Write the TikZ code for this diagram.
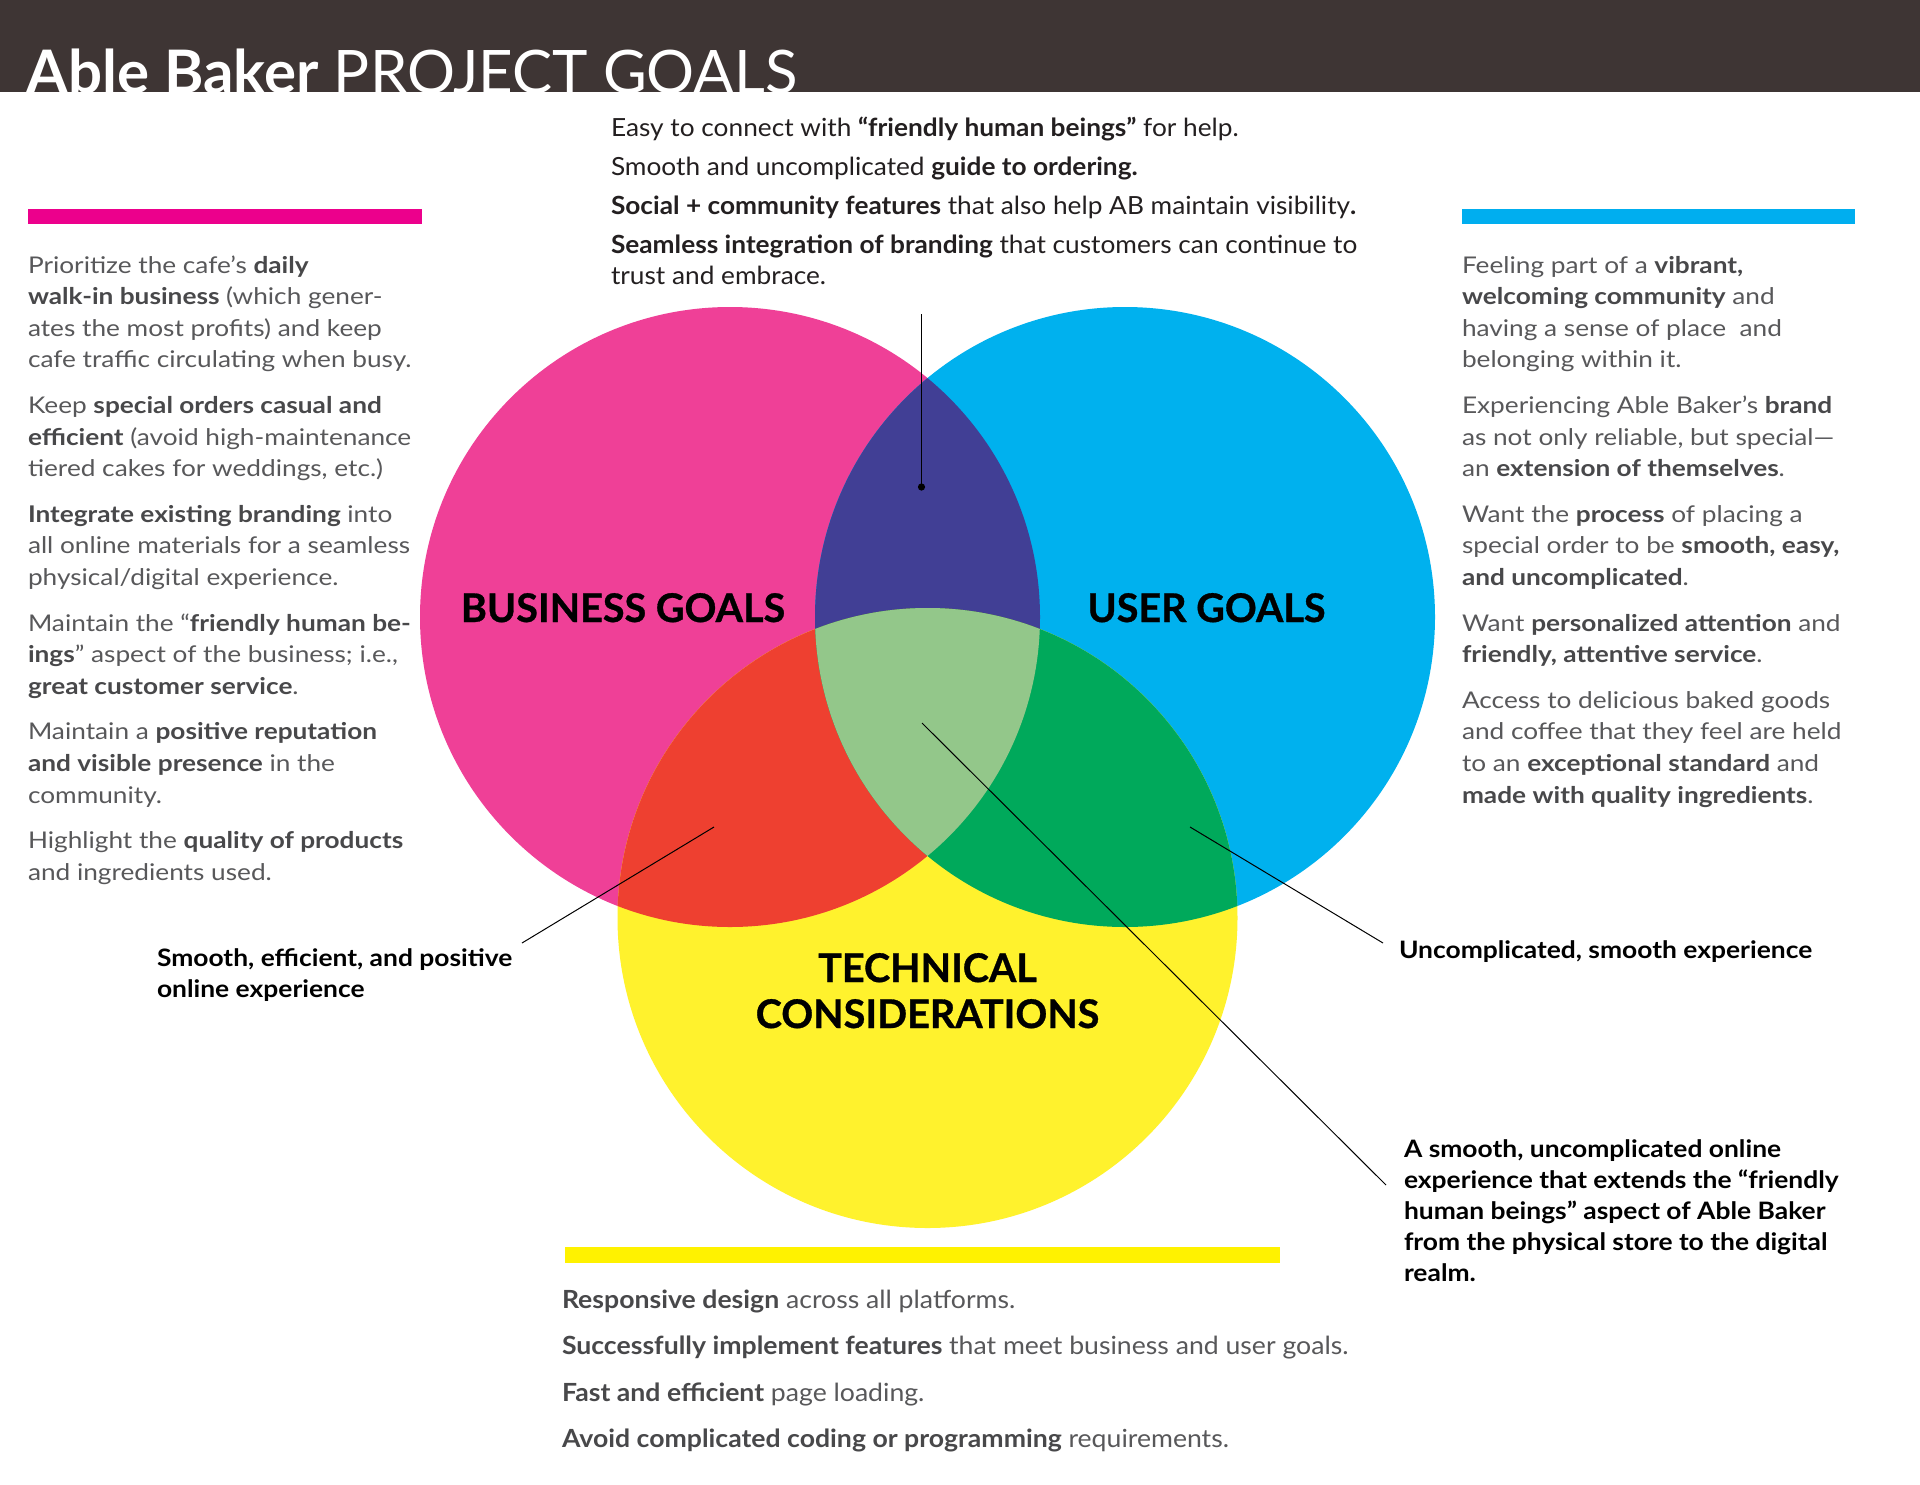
\documentclass[tikz,border=0pt]{standalone}
\usepackage{fontspec}
\setmainfont{Lato}
\newfontfamily\sidefont{Lato}[FakeStretch=1.14]
\newfontfamily\topfont{Lato}[FakeStretch=1.05]
\newfontfamily\botfont{Lato}[FakeStretch=1.065]
\newfontfamily\annfont{Lato}[FakeStretch=1.1]
\newfontfamily\labfont{Lato}[FakeBold=0.8]
\definecolor{hdr}{HTML}{3E3534}
\definecolor{cpink}{HTML}{EF4097}
\definecolor{cblue}{HTML}{00B1EE}
\definecolor{cyellow}{HTML}{FFF22D}
\definecolor{cpurple}{HTML}{413F95}
\definecolor{cred}{HTML}{EE4030}
\definecolor{cgreen}{HTML}{00A95B}
\definecolor{clight}{HTML}{93C78A}
\definecolor{barpink}{HTML}{EC008C}
\definecolor{barblue}{HTML}{00AEEF}
\definecolor{baryellow}{HTML}{FFF200}
\definecolor{bodygray}{HTML}{58585A}
\definecolor{boldgray}{HTML}{48484A}
\definecolor{topblack}{HTML}{231F20}
\newcommand\B[1]{\textbf{\color{boldgray}#1}}
\newcommand\T[1]{\textbf{#1}}
\newcommand\tline[5]{\node[#4] (#1) at (#2,#3) {#5};}
\begin{document}
\begin{tikzpicture}[x=1pt,y=-1pt,
  base/.style={inner sep=0pt, outer sep=0pt, anchor=base west},
  side/.style={base, text=bodygray, font=\sidefont\fontsize{23}{27}\selectfont},
  topt/.style={base, text=topblack, font=\topfont\fontsize{25}{29}\selectfont},
  bott/.style={base, text=bodygray, font=\botfont\fontsize{25}{29}\selectfont},
  ann/.style={base, text=black, font=\annfont\fontsize{24}{28}\selectfont\bfseries},
  clab/.style={inner sep=0pt, outer sep=0pt, anchor=base, text=black, font=\labfont\fontsize{39.5}{46}\selectfont\bfseries},
  conn/.style={draw=black, line width=1pt}]
\useasboundingbox (0,0) rectangle (1920,1484);
\fill[white] (0,0) rectangle (1920,1484);
% header
\fill[hdr] (0,0) rectangle (1920,92);
\node[base, text=white, font=\fontsize{60}{70}\selectfont] (ttl) at (27,93) {\textbf{Able Baker} PROJECT GOALS};
% colour bars
\fill[barpink] (28,209) rectangle (422,224);
\fill[barblue] (1462,209) rectangle (1855,224);
\fill[baryellow] (565,1247) rectangle (1280,1263);
% circles
\coordinate (P) at (730,617);
\coordinate (Bc) at (1125,617);
\coordinate (Y) at (927.5,918);
\fill[cpink] (P) circle[radius=310pt];
\fill[cblue] (Bc) circle[radius=310pt];
\fill[cyellow] (Y) circle[radius=310pt];
\begin{scope}
  \clip (P) circle[radius=310pt];
  \fill[cpurple] (Bc) circle[radius=310pt];
  \fill[cred] (Y) circle[radius=310pt];
\end{scope}
\begin{scope}
  \clip (Bc) circle[radius=310pt];
  \fill[cgreen] (Y) circle[radius=310pt];
\end{scope}
\begin{scope}
  \clip (P) circle[radius=310pt];
  \clip (Bc) circle[radius=310pt];
  \fill[clight] (Y) circle[radius=310pt];
\end{scope}
% circle labels
\node[clab] (bg) at (623,622) {BUSINESS GOALS};
\node[clab] (ug) at (1206.5,622) {USER GOALS};
\node[clab] (tc1) at (927.5,982) {TECHNICAL};
\node[clab] (tc2) at (927.5,1028) {CONSIDERATIONS};
% connectors
\coordinate (t1) at (921.5,314);
\coordinate (t2) at (921.5,487);
\draw[conn, line width=1.4pt] (t1) -- (t2);
\fill[black] (t2) circle[radius=3.6pt];
\coordinate (la) at (714,827);
\coordinate (lb) at (522,943);
\draw[conn] (la) -- (lb);
\coordinate (ra) at (1190,827);
\coordinate (rb) at (1383,943);
\draw[conn] (ra) -- (rb);
\coordinate (ma) at (922,723);
\coordinate (mb) at (1386,1185);
\draw[conn] (ma) -- (mb);
% top text
\tline{tp1}{611}{136}{topt}{Easy to connect with \T{“friendly human beings”} for help.}
\tline{tp2}{611}{175}{topt}{Smooth and uncomplicated \T{guide to ordering.}}
\tline{tp3}{611}{214}{topt}{\T{Social + community features} that also help AB maintain visibility\T{.}}
\tline{tp4}{611}{253}{topt}{\T{Seamless integration of branding} that customers can continue to}
\tline{tp5}{611}{284}{topt}{trust and embrace.}
% left column
\tline{lc1}{28}{273}{side}{Prioritize the cafe’s \B{daily}}
\tline{lc2}{28}{304.6}{side}{\B{walk-in business} (which gener-}
\tline{lc3}{28}{336.2}{side}{ates the most profits) and keep}
\tline{lc4}{28}{367.8}{side}{cafe traffic circulating when busy.}
\tline{lc5}{28}{413.4}{side}{Keep \B{special orders casual and}}
\tline{lc6}{28}{445}{side}{\B{efficient} (avoid high-maintenance}
\tline{lc7}{28}{476.6}{side}{tiered cakes for weddings, etc.)}
\tline{lc8}{28}{522.2}{side}{\B{Integrate existing branding} into}
\tline{lc9}{28}{553.8}{side}{all online materials for a seamless}
\tline{lc10}{28}{585.4}{side}{physical/digital experience.}
\tline{lc11}{28}{631}{side}{Maintain the “\B{friendly human be-}}
\tline{lc12}{28}{662.6}{side}{\B{ings}” aspect of the business; i.e.,}
\tline{lc13}{28}{694.2}{side}{\B{great customer service}.}
\tline{lc14}{28}{739.8}{side}{Maintain a \B{positive reputation}}
\tline{lc15}{28}{771.4}{side}{\B{and visible presence} in the}
\tline{lc16}{28}{803}{side}{community.}
\tline{lc17}{28}{848.6}{side}{Highlight the \B{quality of products}}
\tline{lc18}{28}{880.2}{side}{and ingredients used.}
% right column
\tline{rc1}{1462}{273}{side}{Feeling part of a \B{vibrant,}}
\tline{rc2}{1462}{304.6}{side}{\B{welcoming community} and}
\tline{rc3}{1462}{336.2}{side}{having a sense of place\ \ and}
\tline{rc4}{1462}{367.8}{side}{belonging within it.}
\tline{rc5}{1462}{413.4}{side}{Experiencing Able Baker’s \B{brand}}
\tline{rc6}{1462}{445}{side}{as not only reliable, but special—}
\tline{rc7}{1462}{476.6}{side}{an \B{extension of themselves}.}
\tline{rc8}{1462}{522.2}{side}{Want the \B{process} of placing a}
\tline{rc9}{1462}{553.8}{side}{special order to be \B{smooth, easy,}}
\tline{rc10}{1462}{585.4}{side}{\B{and uncomplicated}.}
\tline{rc11}{1462}{631}{side}{Want \B{personalized attention} and}
\tline{rc12}{1462}{662.6}{side}{\B{friendly, attentive service}.}
\tline{rc13}{1462}{708.2}{side}{Access to delicious baked goods}
\tline{rc14}{1462}{739.8}{side}{and coffee that they feel are held}
\tline{rc15}{1462}{771.4}{side}{to an \B{exceptional standard} and}
\tline{rc16}{1462}{803}{side}{\B{made with quality ingredients}.}
% bottom text
\tline{bt1}{562}{1308}{bott}{\B{Responsive design} across all platforms.}
\tline{bt2}{562}{1354.5}{bott}{\B{Successfully implement features} that meet business and user goals.}
\tline{bt3}{562}{1401}{bott}{\B{Fast and efficient} page loading.}
\tline{bt4}{562}{1447}{bott}{\B{Avoid complicated coding or programming} requirements.}
% annotations
\tline{an1}{157}{966}{ann}{Smooth, efficient, and positive}
\tline{an2}{157}{997.5}{ann}{online experience}
\tline{an3}{1399}{958}{ann}{Uncomplicated, smooth experience}
\tline{an4}{1404}{1157}{ann}{A smooth, uncomplicated online}
\tline{an5}{1404}{1188}{ann}{experience that extends the “friendly}
\tline{an6}{1404}{1219}{ann}{human beings” aspect of Able Baker}
\tline{an7}{1404}{1250}{ann}{from the physical store to the digital}
\tline{an8}{1404}{1281}{ann}{realm.}
\end{tikzpicture}
\end{document}
